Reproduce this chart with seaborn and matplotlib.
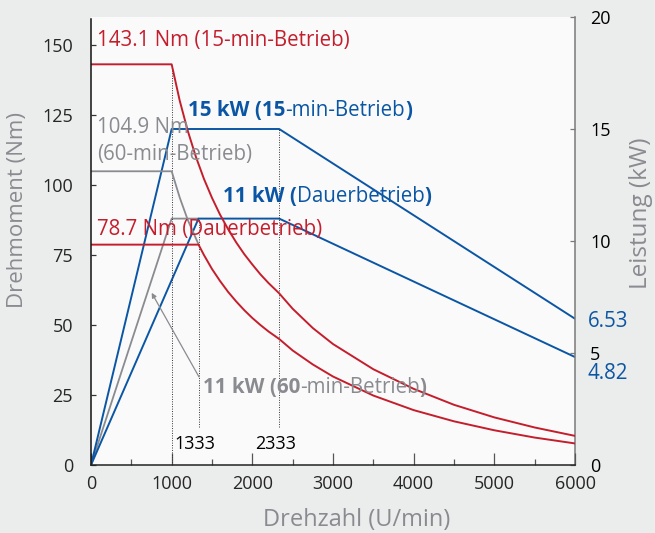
import matplotlib
matplotlib.use("Agg")
import matplotlib.pyplot as plt
from matplotlib.ticker import MultipleLocator
import seaborn as sns

sns.set_theme(style="white")
plt.rcParams["font.family"] = ["Open Sans", "DejaVu Sans"]

# --- Colours ---
RED = "#c41e2d"
BLUE = "#0b56a4"
GRAY = "#8a8b90"
BG = "#ebecec"
PLOT_BG = "#fafafa"

# --- Torque curves (Nm) ---
speed_15 = [0, 1000, 1100, 1200, 1300, 1400, 1500, 1600, 1700, 1800, 1900, 2000,
            2100, 2200, 2333, 2500, 2750, 3000, 3500, 4000, 4500, 5000, 5500, 6000]
torque_15 = [143.1, 143.1, 130.1, 119.3, 110.1, 102.2, 95.4, 89.4, 84.2, 79.5, 75.3, 71.6,
             68.1, 65.0, 61.3, 55.8, 48.9, 43.2, 34.2, 27.2, 21.5, 17.0, 13.4, 10.4]

speed_cont = [0, 1333, 1400, 1500, 1600, 1700, 1800, 1900, 2000, 2100, 2200, 2333,
              2500, 2750, 3000, 3500, 4000, 4500, 5000, 5500, 6000]
torque_cont = [78.7, 78.7, 75.0, 70.0, 65.7, 61.8, 58.4, 55.3, 52.5, 50.0, 47.7, 45.0,
               40.9, 35.9, 31.6, 24.8, 19.6, 15.6, 12.4, 9.8, 7.7]

speed_60 = [0, 1000, 1100, 1200, 1333]
torque_60 = [104.9, 104.9, 95.5, 87.5, 78.8]

# --- Power curves (kW) ---
p15_speed = [0, 1000, 2333, 6000]
p15_kw = [0, 15, 15, 6.53]
p60_speed = [0, 1000, 1333]
p60_kw = [0, 11, 11]
pcont_speed = [0, 1333, 2333, 6000]
pcont_kw = [0, 11, 11, 4.82]

# --- Reference lines ---
ref_speeds = [1000, 1333, 2333]
ref_lo = [0, 13.5, 13.5]
ref_hi = [143.1, 88, 120]
ref_labels = ["", "1333", "2333"]

fig = plt.figure(figsize=(6.55, 5.33), dpi=100, facecolor=BG)
ax = fig.add_axes([91 / 655, 1 - 465 / 533, (575 - 91) / 655, 448 / 533])
ax2 = ax.twinx()
ax.set_zorder(ax2.get_zorder() + 1)
ax.patch.set_visible(False)
ax2.patch.set_visible(True)
ax2.patch.set_facecolor(PLOT_BG)

# power lines (right axis)
sns.lineplot(x=p60_speed, y=p60_kw, ax=ax2, color=GRAY, lw=1.3, estimator=None, errorbar=None)
sns.lineplot(x=p15_speed, y=p15_kw, ax=ax2, color=BLUE, lw=1.4, estimator=None, errorbar=None)
sns.lineplot(x=pcont_speed, y=pcont_kw, ax=ax2, color=BLUE, lw=1.4, estimator=None, errorbar=None)

# torque lines (left axis)
ax.vlines(ref_speeds, ref_lo, ref_hi, colors="#333333", linestyles=(0, (1, 1.5)), lw=0.7)
sns.lineplot(x=speed_60, y=torque_60, ax=ax, color=GRAY, lw=1.3, estimator=None, errorbar=None)
sns.lineplot(x=speed_15, y=torque_15, ax=ax, color=RED, lw=1.4, estimator=None, errorbar=None)
sns.lineplot(x=speed_cont, y=torque_cont, ax=ax, color=RED, lw=1.4, estimator=None, errorbar=None)

ax.set_xlim(0, 6000)
ax.set_ylim(0, 160)
ax2.set_ylim(0, 20)
ax.set_xticks(range(0, 6001, 1000))
ax.xaxis.set_minor_locator(MultipleLocator(500))
ax.set_yticks(range(0, 151, 25))
ax2.set_yticks([0, 5, 10, 15, 20])

for s in ["top", "right"]:
    ax.spines[s].set_visible(False)
for s in ["top", "left", "bottom"]:
    ax2.spines[s].set_visible(False)
ax.spines["left"].set_color("#111111")
ax.spines["bottom"].set_color("#222222")
ax.spines["left"].set_linewidth(1.1)
ax.spines["bottom"].set_linewidth(1.1)
ax.spines["left"].set_bounds(0, 159.3)
ax2.spines["right"].set_color("#7a7a7a")
ax2.spines["right"].set_linewidth(1.1)

ax.tick_params(axis="y", direction="in", length=3.6, width=0.9, pad=13, labelsize=13,
               color="#333333", left=True)
ax.tick_params(axis="x", which="major", direction="in", length=8.6, width=0.9, pad=7,
               labelsize=13, color="#555555", bottom=True)
ax.tick_params(axis="x", which="minor", direction="in", length=4.3, width=0.9,
               color="#555555", bottom=True)
ax2.tick_params(axis="y", direction="in", length=3.6, width=0.9, pad=11, labelsize=13,
                color="#7a7a7a", labelcolor="black", right=True)
ax.grid(False)
ax2.grid(False)
ax.set_xlabel("")
ax.set_ylabel("")
ax2.set_ylabel("")


def rich_text(x, y, parts, color, size=14.8):
    t = ax.text(x, y, parts[0][0], color=color, fontsize=size,
                fontweight=parts[0][1], ha="left", va="baseline")
    for s, w in parts[1:]:
        t = ax.annotate(s, xy=(1, 0), xycoords=t, ha="left", va="bottom",
                        color=color, fontsize=size, fontweight=w)


rich_text(75, 149.8, [("143.1 Nm (15-min-Betrieb)", "normal")], RED)
rich_text(75, 118.7, [("104.9 Nm", "normal")], GRAY)
rich_text(75, 108.9, [("(60-min-Betrieb)", "normal")], GRAY)
rich_text(75, 82.1, [("78.7 Nm (Dauerbetrieb)", "normal")], RED)
rich_text(1205, 124.8, [("15 kW (15", "bold"), ("-min-Betrieb", "normal"), (")", "bold")], BLUE)
rich_text(1639, 93.8, [("11 kW (", "bold"), ("Dauerbetrieb", "normal"), (")", "bold")], BLUE)
rich_text(1384, 25.6, [("11 kW (60", "bold"), ("-min-Betrieb", "normal"), (")", "bold")], GRAY)

for sp, lab in zip(ref_speeds, ref_labels):
    if lab:
        ax.text(sp - 40, 5.6, lab, ha="center", va="baseline", fontsize=13, color="black")

ax.annotate("", xy=(752, 61.5), xytext=(1338, 31.5),
            arrowprops=dict(arrowstyle="-|>", color=GRAY, lw=0.9, mutation_scale=7,
                            shrinkA=0, shrinkB=0))

ax2.annotate("6.53", xy=(6000, 6.53), xytext=(9, -2), textcoords="offset points",
             ha="left", va="center", color=BLUE, fontsize=14.8, annotation_clip=False)
ax2.annotate("4.82", xy=(6000, 4.82), xytext=(9, -11.5), textcoords="offset points",
             ha="left", va="center", color=BLUE, fontsize=14.8, annotation_clip=False)

fig.text(18 / 655, 1 - 210.5 / 533, "Drehmoment (Nm)", rotation=90, ha="center",
         va="center", fontsize=16, color=GRAY)
fig.text(641 / 655, 1 - 213.5 / 533, "Leistung (kW)", rotation=90, ha="center",
         va="center", fontsize=17.5, color=GRAY)
fig.text(356.7 / 655, 1 - 520 / 533, "Drehzahl (U/min)", ha="center", va="center",
         fontsize=17, color=GRAY)

fig.savefig("out.png", dpi=100, facecolor=BG)
